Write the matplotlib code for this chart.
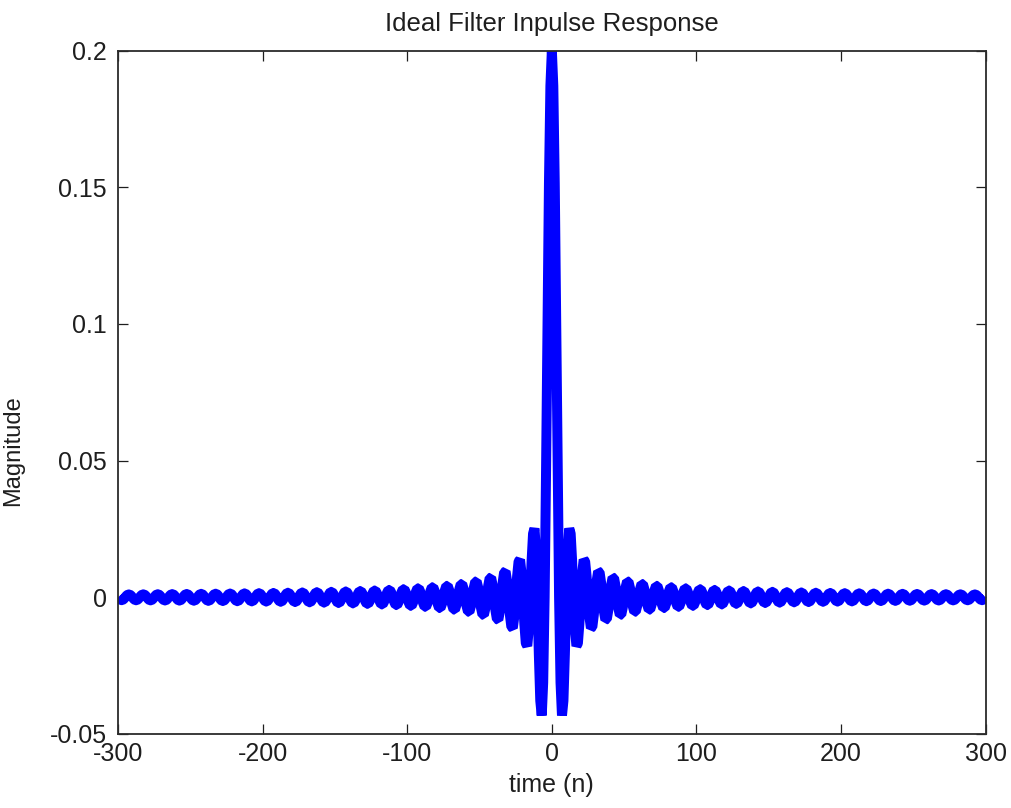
import numpy as np
import matplotlib
matplotlib.use("Agg")
import matplotlib.pyplot as plt

# Impulse response values for n = 0 .. 300 (the response is symmetric: h[-n] = h[n])
h_pos = [
    0.20000,
    0.18710, 0.15137, 0.10091, 0.04677, 0.0, -0.03118, -0.04325, -0.03784, -0.02079, 0.0,
    0.01701, 0.02523, 0.02329, 0.01336, 0.0, -0.01169, -0.01781, -0.01682, -0.00985, 0.0,
    0.00891, 0.01376, 0.01316, 0.00780, 0.0, -0.00720, -0.01121, -0.01081, -0.00645, 0.0,
    0.00604, 0.00946, 0.00917, 0.00550, 0.0, -0.00520, -0.00818, -0.00797, -0.00480, 0.0,
    0.00456, 0.00721, 0.00704, 0.00425, 0.0, -0.00407, -0.00644, -0.00631, -0.00382, 0.0,
    0.00367, 0.00582, 0.00571, 0.00346, 0.0, -0.00334, -0.00531, -0.00522, -0.00317, 0.0,
    0.00307, 0.00488, 0.00481, 0.00292, 0.0, -0.00283, -0.00452, -0.00445, -0.00271, 0.0,
    0.00264, 0.00420, 0.00415, 0.00253, 0.0, -0.00246, -0.00393, -0.00388, -0.00237, 0.0,
    0.00231, 0.00369, 0.00365, 0.00223, 0.0, -0.00218, -0.00348, -0.00344, -0.00210, 0.0,
    0.00206, 0.00329, 0.00326, 0.00199, 0.0, -0.00195, -0.00312, -0.00309, -0.00189, 0.0,
    0.00185, 0.00297, 0.00294, 0.00180, 0.0, -0.00177, -0.00283, -0.00280, -0.00172, 0.0,
    0.00169, 0.00270, 0.00268, 0.00164, 0.0, -0.00161, -0.00259, -0.00257, -0.00157, 0.0,
    0.00155, 0.00248, 0.00246, 0.00151, 0.0, -0.00148, -0.00238, -0.00237, -0.00145, 0.0,
    0.00143, 0.00229, 0.00228, 0.00140, 0.0, -0.00138, -0.00221, -0.00219, -0.00135, 0.0,
    0.00133, 0.00213, 0.00212, 0.00130, 0.0, -0.00128, -0.00206, -0.00205, -0.00126, 0.0,
    0.00124, 0.00199, 0.00198, 0.00121, 0.0, -0.00120, -0.00193, -0.00192, -0.00118, 0.0,
    0.00116, 0.00187, 0.00186, 0.00114, 0.0, -0.00113, -0.00181, -0.00180, -0.00111, 0.0,
    0.00109, 0.00176, 0.00175, 0.00108, 0.0, -0.00106, -0.00171, -0.00170, -0.00105, 0.0,
    0.00103, 0.00166, 0.00165, 0.00102, 0.0, -0.00101, -0.00162, -0.00161, -0.00099, 0.0,
    0.00098, 0.00158, 0.00157, 0.00096, 0.0, -0.00095, -0.00154, -0.00153, -0.00094, 0.0,
    0.00093, 0.00150, 0.00149, 0.00092, 0.0, -0.00091, -0.00146, -0.00146, -0.00090, 0.0,
    0.00089, 0.00143, 0.00142, 0.00087, 0.0, -0.00087, -0.00140, -0.00139, -0.00085, 0.0,
    0.00085, 0.00136, 0.00136, 0.00084, 0.0, -0.00083, -0.00133, -0.00133, -0.00082, 0.0,
    0.00081, 0.00130, 0.00130, 0.00080, 0.0, -0.00079, -0.00128, -0.00127, -0.00078, 0.0,
    0.00078, 0.00125, 0.00125, 0.00077, 0.0, -0.00076, -0.00123, -0.00122, -0.00075, 0.0,
    0.00075, 0.00120, 0.00120, 0.00074, 0.0, -0.00073, -0.00118, -0.00117, -0.00072, 0.0,
    0.00072, 0.00116, 0.00115, 0.00071, 0.0, -0.00070, -0.00113, -0.00113, -0.00070, 0.0,
    0.00069, 0.00111, 0.00111, 0.00068, 0.0, -0.00068, -0.00109, -0.00109, -0.00067, 0.0,
    0.00067, 0.00107, 0.00107, 0.00066, 0.0, -0.00065, -0.00105, -0.00105, -0.00065, 0.0,
    0.00064, 0.00104, 0.00103, 0.00064, 0.0, -0.00063, -0.00102, -0.00102, -0.00063, 0.0,
]

time_n = np.arange(-300, 301)
h_pos = np.array(h_pos)
magnitude = np.concatenate([h_pos[:0:-1], h_pos])

x_ticks = [-300, -200, -100, 0, 100, 200, 300]
x_tick_labels = ["-300", "-200", "-100", "0", "100", "200", "300"]
y_ticks = [-0.05, 0, 0.05, 0.1, 0.15, 0.2]
y_tick_labels = ["-0.05", "0", "0.05", "0.1", "0.15", "0.2"]

plt.rcParams["font.family"] = ["Liberation Sans", "DejaVu Sans"]
TXT = "#1e1e1e"

fig = plt.figure(figsize=(10.11, 8.08), dpi=100, facecolor="white")
ax = fig.add_axes([0.1167, 0.0916, 0.8583, 0.8457])

ax.plot(time_n, magnitude, color="#0000ff", linewidth=7.2,
        solid_joinstyle="bevel", solid_capstyle="butt")

ax.set_xlim(-300, 300)
ax.set_ylim(-0.05, 0.2)
ax.set_xticks(x_ticks)
ax.set_xticklabels(x_tick_labels)
ax.set_yticks(y_ticks)
ax.set_yticklabels(y_tick_labels)

ax.tick_params(axis="both", which="both", direction="in", length=7, width=0.9,
               top=True, right=True, labelsize=18, colors=TXT)
ax.tick_params(axis="x", pad=6)
ax.tick_params(axis="y", pad=8)
for sp in ax.spines.values():
    sp.set_linewidth(1.3)
    sp.set_color("#2b2b2b")
    sp.set_zorder(3)

ax.set_title("Ideal Filter Inpulse Response", fontsize=18.5, color=TXT, pad=14)
ax.set_xlabel("time (n)", fontsize=18, color=TXT, labelpad=5)
ax.set_ylabel("Magnitude", fontsize=17, color=TXT)
ax.yaxis.set_label_coords(-0.108, 0.415)

fig.savefig("out.png", dpi=100, facecolor="white")
